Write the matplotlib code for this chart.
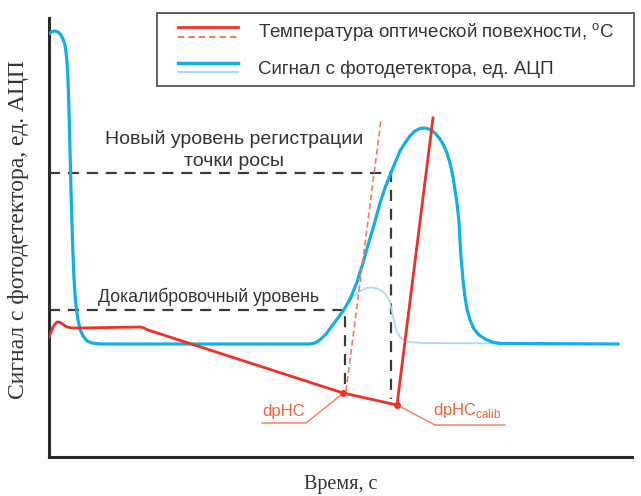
import numpy as np
import matplotlib as mpl
mpl.use('Agg')
from matplotlib import pyplot as plt
from matplotlib.lines import Line2D
from matplotlib.legend_handler import HandlerBase

plt.rcParams['font.family'] = ['Liberation Sans', 'DejaVu Sans']

# values (time / signal, arbitrary units)
signal_t = [1, 3, 6, 9, 12, 14, 16, 17, 18, 19, 20, 21, 22, 23, 24, 25, 26, 27,
            29, 31, 34, 38, 43, 51, 261, 266, 271, 277, 283, 289, 296, 302, 308,
            314, 319, 325, 331, 336, 341, 346, 351, 356, 361, 366, 371, 376, 381,
            386, 391, 395, 398, 401, 404, 406, 408, 410, 411, 412, 414, 416, 418,
            421, 425, 430, 436, 443, 451, 569]
signal_v = [424, 425.5, 426, 425, 422, 418, 412, 405, 395, 377, 347, 307, 267,
            232, 202, 179, 162, 151, 137, 128, 121, 116, 114, 113, 113, 114, 117,
            123, 131, 139, 149, 160, 175, 194, 212, 232, 254, 269, 282, 294, 306,
            314, 321, 326, 328.5, 329, 327.5, 324, 318, 311, 304, 294, 280, 267,
            254, 235, 217, 200, 177, 160, 148, 137, 128, 122, 118, 115, 113.5, 113]

calib_t = [294, 298, 303, 308, 313, 318, 323, 328, 333, 337, 340, 342, 344, 346,
           348, 351, 355, 361, 371, 451]
calib_v = [145, 152, 159, 164, 167, 169, 169.5, 168.5, 166, 162, 157, 150, 141,
           132, 125, 120, 117, 115, 114, 113.5]

temp_t = [0, 2, 4, 6, 8, 10, 12, 15, 18, 23, 31, 91, 95, 99, 294, 348, 384]
temp_v = [120, 125, 130, 133, 135, 135, 134, 132, 130, 129, 129, 130, 129, 127,
          64, 52, 339]

temp_fit_t = [297, 332]
temp_fit_v = [66, 337]

dp_t = [294, 348]
dp_v = [64, 52]
dp_names = ['dpHC', 'dpHC$_{\\mathregular{calib}}$']

level_old = 147
level_new = 284

blue = '#12aee8'
blue_light = '#a6dcf3'
red = '#ee3124'
salmon = '#f47a5a'
label_red = '#f0623a'
dash_col = '#3a3a3a'


class TwoLines(HandlerBase):
    # two stacked sample lines, the first one on top
    def create_artists(self, legend, orig_handle, xdescent, ydescent,
                       width, height, fontsize, trans):
        top, bottom = orig_handle
        x0 = -xdescent + 9
        x1 = width - xdescent
        y1 = height * 0.85 - ydescent
        y2 = height * 0.1 - ydescent
        a = Line2D([x0, x1], [y1, y1], transform=trans, **top)
        b = Line2D([x0, x1], [y2, y2], transform=trans, **bottom)
        return [a, b]


fig = plt.figure(figsize=(6.41, 4.96), dpi=100)
ax = fig.add_axes([49 / 641, 39 / 496, 583 / 641, 439 / 496])
ax.set_xlim(0, 583)
ax.set_ylim(0, 439)

ax.plot(calib_t, calib_v, color=blue_light, lw=1.3, zorder=2)
ax.plot(signal_t, signal_v, color=blue, lw=2.3, zorder=3, solid_joinstyle='round')
ax.plot(temp_t, temp_v, color=red, lw=2.0, zorder=4)
ax.plot(temp_fit_t, temp_fit_v, color=salmon, lw=1.2, dashes=(3.5, 2), zorder=4)

# level lines
x_old = dp_t[0] + 2
x_new = 342
ax.plot([0, x_old, x_old], [level_old, level_old, 72], color=dash_col,
        lw=1.6, dashes=(5, 3.5), zorder=1)
ax.plot([0, x_new, x_new], [level_new, level_new, 58], color=dash_col,
        lw=1.6, dashes=(5, 3.5), zorder=1)

ax.plot(dp_t, dp_v, 'o', color=red, ms=4, zorder=5)

# dp labels with underline leaders
ax.text(213, 38, dp_names[0], color=label_red, fontsize=12, ha='left', va='bottom')
ax.plot([213, 257, dp_t[0] - 2], [34, 34, dp_v[0] - 2], color=salmon, lw=1.0)
ax.text(384, 37, dp_names[1], color=label_red, fontsize=12, ha='left', va='bottom')
ax.plot([456, 386, dp_t[1] + 2], [32, 32, dp_v[1] - 1], color=salmon, lw=1.0)

ax.text(185, 318, 'Новый уровень регистрации', color='#333333', fontsize=14,
        ha='center', va='center')
ax.text(185, 296, 'точки росы', color='#333333', fontsize=14,
        ha='center', va='center')
ax.text(49, 160, 'Докалибровочный уровень', color='#333333', fontsize=12.7,
        ha='left', va='center')

for s in ['top', 'right']:
    ax.spines[s].set_visible(False)
for s in ['left', 'bottom']:
    ax.spines[s].set_linewidth(2.2)
    ax.spines[s].set_color('#2a2a2a')
ax.set_xticks([])
ax.set_yticks([])

ax.set_xlabel('Время, с', family=['Liberation Serif'], fontsize=14.5,
              color='#333333', labelpad=13)
ax.set_ylabel('Сигнал с фотодетектора, ед. АЦП', family=['Liberation Serif'],
              fontsize=17, color='#333333')
ax.yaxis.set_label_coords(-0.034, 0.517)

handles = [
    (dict(color=red, lw=2.0), dict(color=salmon, lw=1.5, dashes=(3, 2))),
    (dict(color=blue, lw=2.5), dict(color=blue_light, lw=1.5)),
]
labels = ['Температура оптической повехности, $^{\\mathregular{o}}$C',
          'Сигнал с фотодетектора, ед. АЦП']
leg = fig.legend(handles, labels, handler_map={tuple: TwoLines()},
                 loc='upper left', mode='expand',
                 bbox_to_anchor=(157 / 641, 1 - 87 / 496, 477 / 641, 74 / 496),
                 borderaxespad=0, fancybox=False, framealpha=1,
                 edgecolor='#555555', fontsize=13.5, handlelength=3.85,
                 handletextpad=1.07, labelspacing=0.86, borderpad=0.45)
leg.get_frame().set_linewidth(1.3)
for t in leg.get_texts():
    t.set_color('#333333')

fig.savefig('out.png', dpi=100)
